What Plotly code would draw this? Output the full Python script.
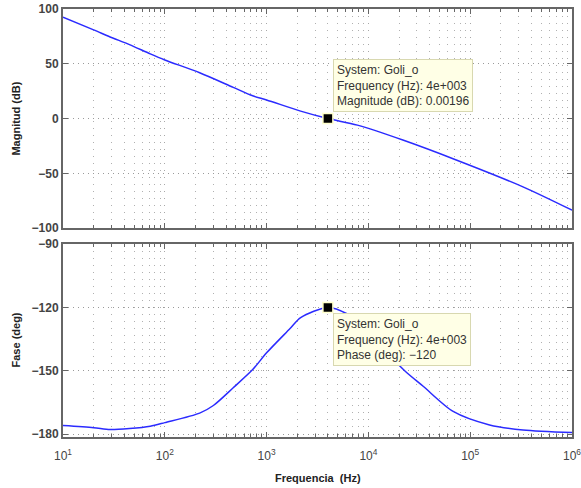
import plotly.graph_objects as go
from plotly.subplots import make_subplots

# ---- data ----
mag_freq = [10, 20, 29, 45, 72, 100, 220, 470, 730, 1000, 2160, 4000, 7800, 21800, 74000, 330000, 1000000]
mag_db = [92.5, 81.0, 74.5, 67.5, 59.0, 53.5, 41.8, 28.5, 20.8, 17.0, 6.8, 0.00196, -6.0, -19.6, -38.0, -62.3, -83.6]

ph_freq = [10, 20, 29, 45, 72, 100, 220, 300, 470, 730, 1000, 1700, 2160, 4000, 6150, 10000, 15000,
           23000, 34500, 68000, 155000, 330000, 1000000]
ph_deg = [-175.9, -176.9, -177.8, -177.3, -176.2, -174.5, -170.0, -166.4, -158.0, -149.4, -141.5, -130.0,
          -124.8, -120.0, -123.0, -131.0, -141.0, -150.2, -157.3, -169.2, -175.6, -178.0, -179.2]

marker_freq = 4000
marker_mag = 0.00196
marker_phase = -120

decades = [10, 100, 1000, 10000, 100000, 1000000]
decade_labels = ["10<sup>1</sup>", "10<sup>2</sup>", "10<sup>3</sup>", "10<sup>4</sup>", "10<sup>5</sup>", "10<sup>6</sup>"]
minor_vals = [m * d for d in decades[:-1] for m in range(2, 10)]

mag_ticks = [-100, -50, 0, 50, 100]
mag_labels = ["<b>\u2212100</b>", "<b>\u221250</b>", "<b>0</b>", "<b>50</b>", "<b>100</b>"]
ph_ticks = [-180, -150, -120, -90]
ph_labels = ["<b>\u2212180</b>", "<b>\u2212150</b>", "<b>\u2212120</b>", "<b>\u221290</b>"]

tip_mag = "System: Goli_o<br>Frequency (Hz): 4e+003<br>Magnitude (dB): 0.00196"
tip_ph = "System: Goli_o<br>Frequency (Hz): 4e+003<br>Phase (deg): \u2212120"

# ---- figure ----
fig = make_subplots(rows=2, cols=1, shared_xaxes=False, vertical_spacing=0.037)

line_col = "#2b2bff"
fig.add_trace(go.Scatter(x=mag_freq, y=mag_db, mode="lines", line=dict(color=line_col, width=1.5, shape="spline", smoothing=0.8),
                         showlegend=False, hoverinfo="skip"), row=1, col=1)
fig.add_trace(go.Scatter(x=ph_freq, y=ph_deg, mode="lines", line=dict(color=line_col, width=1.5, shape="spline", smoothing=0.8),
                         showlegend=False, hoverinfo="skip"), row=2, col=1)

mk = dict(symbol="square", size=10, color="black", line=dict(color="#ffffcc", width=1.5))
fig.add_trace(go.Scatter(x=[marker_freq], y=[marker_mag], mode="markers", marker=mk, showlegend=False), row=1, col=1)
fig.add_trace(go.Scatter(x=[marker_freq], y=[marker_phase], mode="markers", marker=mk, showlegend=False), row=2, col=1)

frame = "#666666"
tickfont = dict(family="Liberation Sans, Arial, sans-serif", size=12, color="#444444")
titlefont = dict(family="Liberation Sans, Arial, sans-serif", size=11, color="#222222")
hgrid = dict(showgrid=True, gridcolor="#9a9a9a", griddash="1px,4px", gridwidth=1)
vgrid = dict(showgrid=True, gridcolor="#a8a8a8", griddash="1px,6px", gridwidth=1)

for r in (1, 2):
    fig.update_xaxes(type="log", range=[1, 6], tickmode="array", tickvals=decades,
                     ticktext=decade_labels if r == 2 else [""] * 6,
                     showticklabels=(r == 2), ticks="inside", ticklen=5, tickcolor=frame, tickwidth=1,
                     showline=True, linecolor=frame, linewidth=2, mirror="ticks", zeroline=False,
                     tickfont=tickfont, automargin=False, ticklabeloverflow="allow", ticklabelstandoff=7,
                     minor=dict(tickmode="array", tickvals=minor_vals, ticks="inside", ticklen=3,
                                tickcolor=frame, showgrid=True, gridcolor="#b0b0b0", griddash="1px,6px"),
                     **vgrid, row=r, col=1)

fig.update_yaxes(range=[-100, 100], tickmode="array", tickvals=mag_ticks, ticktext=mag_labels, ticks="inside", ticklen=5,
                 tickcolor=frame, showline=True, linecolor=frame, linewidth=2, mirror="ticks", zeroline=False,
                 tickfont=tickfont, automargin=False, **hgrid, row=1, col=1)
fig.update_yaxes(range=[-181.3, -90], tickmode="array", tickvals=ph_ticks, ticktext=ph_labels, ticks="inside", ticklen=5,
                 tickcolor=frame, showline=True, linecolor=frame, linewidth=2, mirror="ticks", zeroline=False,
                 tickfont=tickfont, automargin=False, **hgrid, row=2, col=1)

# axis titles
fig.add_annotation(text="<b>Magnitud (dB)</b>", xref="paper", yref="y domain", x=0, y=0.5, xshift=-47,
                   textangle=-90, showarrow=False, font=titlefont, xanchor="center", yanchor="middle")
fig.add_annotation(text="<b>Fase (deg)</b>", xref="paper", yref="y2 domain", x=0, y=0.5, xshift=-47,
                   textangle=-90, showarrow=False, font=titlefont, xanchor="center", yanchor="middle")
fig.add_annotation(text="<b>Frequencia\u00a0\u00a0(Hz)</b>", xref="x2 domain", yref="paper", x=0.5, y=0, yshift=-41,
                   showarrow=False, font=titlefont, xanchor="center", yanchor="middle")

tipfont = dict(family="Liberation Sans, Arial, sans-serif", size=12, color="#333333")
fig.add_annotation(x=3.60206, y=marker_mag, xref="x", yref="y", text=tip_mag, showarrow=False,
                   xanchor="left", yanchor="bottom", xshift=5, yshift=7, align="left",
                   bgcolor="#ffffe6", bordercolor="#d8d8b0", borderwidth=1, borderpad=3, font=tipfont)
fig.add_annotation(x=3.60206, y=marker_phase, xref="x2", yref="y2", text=tip_ph, showarrow=False,
                   xanchor="left", yanchor="top", xshift=5, yshift=-6, align="left",
                   bgcolor="#ffffe6", bordercolor="#d8d8b0", borderwidth=1, borderpad=3, font=tipfont)

fig.update_layout(width=581, height=488, margin=dict(l=63, r=9, t=9, b=51, autoexpand=False),
                  plot_bgcolor="white", paper_bgcolor="white", showlegend=False)
fig.update_layout(yaxis=dict(domain=[0.488, 1.0]), yaxis2=dict(domain=[0.0, 0.451]))

fig.write_html("out.html", config={"displayModeBar": False},
               post_script="document.body.style.margin='0';document.body.style.overflow='hidden';")
